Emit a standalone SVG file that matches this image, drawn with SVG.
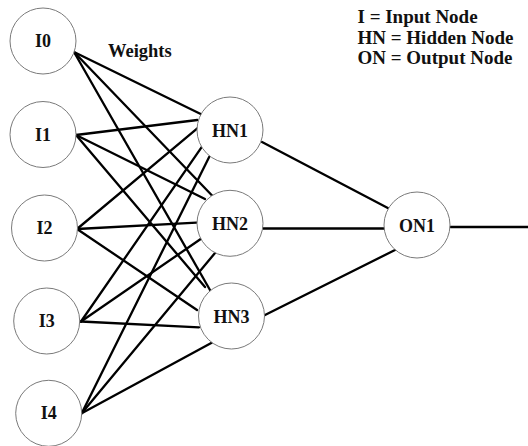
<svg xmlns="http://www.w3.org/2000/svg" width="528" height="446" viewBox="0 0 528 446">
<style>
.node circle{fill:#fff;stroke:#7a7a7a;stroke-width:1}
.node text{font-family:"Liberation Serif","Times New Roman",serif;font-weight:bold;font-size:18px;text-anchor:middle;fill:#111}
.lbl{font-family:"Liberation Serif","Times New Roman",serif;font-weight:bold;font-size:19px;fill:#111}
#connectors line{stroke:#000;stroke-width:2.3;stroke-linecap:round}
</style>
<rect width="528" height="446" fill="#fff"/>
<g id="connectors">
<line x1="74" y1="52" x2="200.7" y2="114"/>
<line x1="74" y1="52" x2="213" y2="196.5"/>
<line x1="74" y1="52" x2="210" y2="290"/>
<line x1="76" y1="135" x2="197.3" y2="120"/>
<line x1="76" y1="135" x2="205" y2="199"/>
<line x1="76" y1="135" x2="205" y2="287"/>
<line x1="77" y1="229" x2="197.3" y2="128.3"/>
<line x1="77" y1="229" x2="196.5" y2="222.7"/>
<line x1="77" y1="229" x2="197" y2="310"/>
<line x1="81" y1="321.5" x2="202" y2="146.7"/>
<line x1="81" y1="321.5" x2="200.7" y2="239"/>
<line x1="81" y1="321.5" x2="199" y2="327.3"/>
<line x1="81.7" y1="413.3" x2="209.3" y2="156.7"/>
<line x1="81.7" y1="413.3" x2="215" y2="253"/>
<line x1="81.7" y1="413.3" x2="211.7" y2="342.7"/>
<line x1="262" y1="142" x2="388.3" y2="208.3"/>
<line x1="263" y1="228.5" x2="384" y2="228.5"/>
<line x1="265" y1="315" x2="395" y2="250"/>
<line x1="450.5" y1="227" x2="528" y2="227"/>
</g>
<g id="I0" class="node"><circle cx="43" cy="41" r="33"/><text x="43" y="47">I0</text></g>
<g id="I1" class="node"><circle cx="43" cy="134.5" r="33"/><text x="43" y="140.5">I1</text></g>
<g id="I2" class="node"><circle cx="44.5" cy="228" r="33"/><text x="44.5" y="234">I2</text></g>
<g id="I3" class="node"><circle cx="46.7" cy="321" r="33"/><text x="46.7" y="327">I3</text></g>
<g id="I4" class="node"><circle cx="48.7" cy="413.3" r="33"/><text x="48.7" y="419.3">I4</text></g>
<g id="HN1" class="node"><circle cx="230" cy="130" r="33"/><text x="230" y="136.5">HN1</text></g>
<g id="HN2" class="node"><circle cx="230" cy="223.3" r="33"/><text x="230" y="229.8">HN2</text></g>
<g id="HN3" class="node"><circle cx="231.5" cy="316" r="33"/><text x="231.5" y="322.5">HN3</text></g>
<g id="ON1" class="node"><circle cx="417" cy="225" r="33"/><text x="417" y="231.5">ON1</text></g>
<text class="lbl" x="108" y="57.3" style="font-size:18.5px">Weights</text>
<g id="legend" class="lbl">
<text x="357.5" y="23.3">I = Input Node</text>
<text x="357.5" y="43.8">HN = Hidden Node</text>
<text x="357.5" y="63.8">ON = Output Node</text>
</g>
</svg>
